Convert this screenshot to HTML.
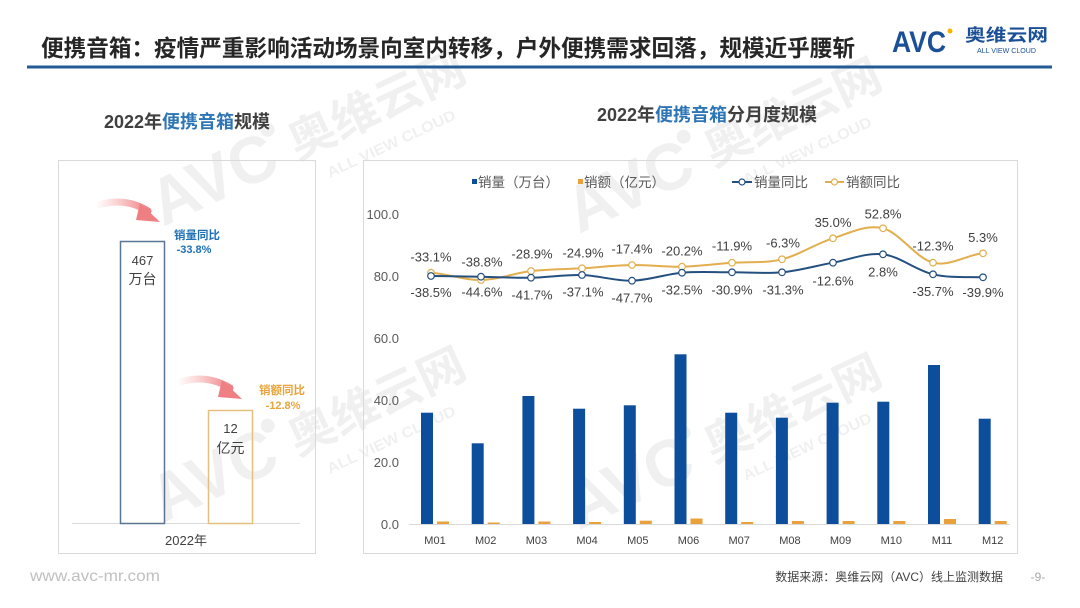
<!DOCTYPE html>
<html><head><meta charset="utf-8"><style>
html,body{margin:0;padding:0;background:#fff;}
svg{display:block;}
text{font-family:"Liberation Sans","Noto Sans CJK SC",sans-serif;}
</style></head><body>
<svg width="1080" height="608" viewBox="0 0 1080 608" xmlns="http://www.w3.org/2000/svg">
<defs>
<linearGradient id="arr" x1="0" y1="0" x2="1" y2="0">
<stop offset="0" stop-color="#f4a0a0" stop-opacity="0"/>
<stop offset="1" stop-color="#ef7f82" stop-opacity="1"/>
</linearGradient>
<g id="wm" fill="#000" fill-opacity="0.06">
<text x="0" y="0" font-size="66" font-weight="bold" textLength="132" lengthAdjust="spacingAndGlyphs">AVC</text>
<circle cx="136" cy="-44" r="7"/>
<text x="150" y="-4" font-size="46" font-weight="bold" textLength="190" lengthAdjust="spacingAndGlyphs">奥维云网</text>
<text x="172" y="26" font-size="15" font-weight="bold" textLength="140" lengthAdjust="spacingAndGlyphs">ALL VIEW CLOUD</text>
</g>
</defs>

<!-- watermarks -->
<use href="#wm" transform="translate(163,227) rotate(-25)"/>
<use href="#wm" transform="translate(579,234) rotate(-25)"/>
<use href="#wm" transform="translate(163,523) rotate(-25)"/>
<use href="#wm" transform="translate(579,530) rotate(-25)"/>

<!-- title -->
<text x="41" y="56" font-size="23" font-weight="bold" fill="#262626" textLength="814" lengthAdjust="spacingAndGlyphs">便携音箱：疫情严重影响活动场景向室内转移，户外便携需求回落，规模近乎腰斩</text>
<line x1="27" y1="67" x2="1052" y2="67" stroke="#215b96" stroke-width="3"/>

<!-- logo -->
<text x="892" y="52" font-size="30" font-weight="bold" fill="#1b4f96" textLength="54" lengthAdjust="spacingAndGlyphs">AVC</text>
<circle cx="950" cy="31" r="2.5" fill="#f5b400"/>
<text x="965" y="41" font-size="17" font-weight="bold" fill="#1b4f96" textLength="83" lengthAdjust="spacingAndGlyphs">奥维云网</text>
<text x="977" y="53" font-size="7" fill="#1b4f96" textLength="59" lengthAdjust="spacingAndGlyphs">ALL VIEW CLOUD</text>

<!-- subtitles -->
<text x="104" y="128" font-size="18" font-weight="bold" fill="#404040">2022年<tspan fill="#2e75b6">便携音箱</tspan>规模</text>
<text x="597" y="121" font-size="18" font-weight="bold" fill="#404040">2022年<tspan fill="#2e75b6">便携音箱</tspan>分月度规模</text>

<!-- left panel -->
<rect x="58.5" y="160.5" width="257" height="393" fill="none" stroke="#d9d9d9" stroke-width="1"/>
<line x1="72" y1="523.5" x2="300" y2="523.5" stroke="#d9d9d9" stroke-width="1"/>
<rect x="120.5" y="241.5" width="44" height="282" fill="none" stroke="#5b7594" stroke-width="1.5"/>
<rect x="208.5" y="410.5" width="44" height="113" fill="none" stroke="#e3c07e" stroke-width="1.5"/>
<text x="142.5" y="265" font-size="13" fill="#404040" text-anchor="middle">467</text>
<text x="142.5" y="284" font-size="14" fill="#404040" text-anchor="middle">万台</text>
<text x="230.5" y="433" font-size="13" fill="#404040" text-anchor="middle">12</text>
<text x="230.5" y="453" font-size="14" fill="#404040" text-anchor="middle">亿元</text>
<text x="186" y="545" font-size="13" fill="#404040" text-anchor="middle">2022年</text>
<text x="174" y="239" font-size="11.5" font-weight="bold" fill="#2070b8">销量同比</text>
<text x="194" y="253" font-size="11" font-weight="bold" fill="#2070b8" text-anchor="middle">-33.8%</text>
<text x="259" y="394" font-size="11.5" font-weight="bold" fill="#e8a43a">销额同比</text>
<text x="283" y="409" font-size="11" font-weight="bold" fill="#e8a43a" text-anchor="middle">-12.8%</text>
<!-- arrows -->
<path d="M95,206 Q124,196 148,211" fill="none" stroke="url(#arr)" stroke-width="7" stroke-linecap="round"/>
<polygon points="140,203 160,222 136,220" fill="#ef7f82"/>
<path d="M177,383 Q206,373 230,388" fill="none" stroke="url(#arr)" stroke-width="7" stroke-linecap="round"/>
<polygon points="222,380 242,399 218,397" fill="#ef7f82"/>

<!-- right panel -->
<rect x="363.5" y="160.5" width="654" height="393" fill="none" stroke="#d9d9d9" stroke-width="1"/>
<!-- legend -->
<rect x="472" y="179" width="5" height="5" fill="#0d4e9c"/>
<text x="478" y="187" font-size="13.5" fill="#595959">销量（万台）</text>
<rect x="578" y="179" width="5" height="5" fill="#eba13b"/>
<text x="584" y="187" font-size="13.5" fill="#595959">销额（亿元）</text>
<line x1="732" y1="182" x2="752" y2="182" stroke="#24507f" stroke-width="2"/>
<circle cx="742" cy="182" r="3" fill="#fff" stroke="#24507f" stroke-width="1.2"/>
<text x="754" y="187" font-size="13.5" fill="#595959">销量同比</text>
<line x1="825" y1="182" x2="844" y2="182" stroke="#e2ae4e" stroke-width="2"/>
<circle cx="834.5" cy="182" r="3" fill="#fff" stroke="#e2ae4e" stroke-width="1.2"/>
<text x="846" y="187" font-size="13.5" fill="#595959">销额同比</text>

<!-- y axis labels -->
<g font-size="13" fill="#595959" text-anchor="end">
<text x="399" y="219">100.0</text>
<text x="399" y="281">80.0</text>
<text x="399" y="343">60.0</text>
<text x="399" y="405">40.0</text>
<text x="399" y="467">20.0</text>
<text x="399" y="529">0.0</text>
</g>
<line x1="409" y1="524.5" x2="1010" y2="524.5" stroke="#d9d9d9" stroke-width="1"/>

<!-- blue bars -->
<g fill="#0d4e9c">
<rect x="421" y="412.7" width="12" height="111.3"/>
<rect x="471.7" y="443.3" width="12" height="80.7"/>
<rect x="522.4" y="396" width="12" height="128"/>
<rect x="573.1" y="408.7" width="12" height="115.3"/>
<rect x="623.8" y="405.3" width="12" height="118.7"/>
<rect x="674.5" y="354.3" width="12" height="169.7"/>
<rect x="725.2" y="412.7" width="12" height="111.3"/>
<rect x="775.9" y="417.7" width="12" height="106.3"/>
<rect x="826.6" y="402.7" width="12" height="121.3"/>
<rect x="877.3" y="401.7" width="12" height="122.3"/>
<rect x="928" y="365" width="12" height="159"/>
<rect x="978.7" y="418.7" width="12" height="105.3"/>
</g>
<!-- orange bars -->
<g fill="#eba13b">
<rect x="437" y="521.5" width="12" height="2.5"/>
<rect x="487.7" y="522.5" width="12" height="1.5"/>
<rect x="538.4" y="521.5" width="12" height="2.5"/>
<rect x="589.1" y="522" width="12" height="2"/>
<rect x="639.8" y="520.7" width="12" height="3.3"/>
<rect x="690.5" y="518.5" width="12" height="5.5"/>
<rect x="741.2" y="522" width="12" height="2"/>
<rect x="791.9" y="521" width="12" height="3"/>
<rect x="842.6" y="521" width="12" height="3"/>
<rect x="893.3" y="521" width="12" height="3"/>
<rect x="944" y="519" width="12" height="5"/>
<rect x="994.7" y="521" width="12" height="3"/>
</g>
<!-- x labels -->
<g font-size="11" fill="#404040" text-anchor="middle">
<text x="435" y="544">M01</text>
<text x="485.7" y="544">M02</text>
<text x="536.4" y="544">M03</text>
<text x="587.1" y="544">M04</text>
<text x="637.8" y="544">M05</text>
<text x="688.5" y="544">M06</text>
<text x="739.2" y="544">M07</text>
<text x="789.9" y="544">M08</text>
<text x="840.6" y="544">M09</text>
<text x="891.3" y="544">M10</text>
<text x="942" y="544">M11</text>
<text x="992.7" y="544">M12</text>
</g>

<!-- orange line -->
<path d="M431,272.7 C447.7,273.9 464.5,280.3 481,280 C497.9,279.7 514.7,273 531,271 C548.1,269.1 564.9,269.3 582,268.3 C598.3,267.3 615.1,265.3 632,265 C648.5,264.7 665.3,267.1 682,266.7 C698.7,266.3 715.5,263.9 732,262.7 C748.9,261.5 765.7,263.4 782,259.3 C799.1,255.2 815.9,243.5 833,238.3 C849.3,233.1 866.1,224.2 883,228.3 C899.5,232.4 916.3,258.5 933,262.7 C949.7,266.9 966.5,254.9 983,253.3" fill="none" stroke="#e2ae4e" stroke-width="2"/>
<!-- blue line -->
<path d="M431,276 C447.7,276.1 464.5,276.4 481,276.7 C497.9,277 514.7,278 531,277.7 C548.1,277.4 564.9,274.5 582,275 C598.3,275.5 615.1,281.1 632,280.7 C648.5,280.3 665.3,274.1 682,272.7 C698.7,271.3 715.5,272.4 732,272.3 C748.9,272.2 765.7,273.9 782,272.3 C799.1,270.7 815.9,265.7 833,262.7 C849.3,259.7 866.1,252.4 883,254.3 C899.5,256.2 916.3,270.5 933,274.3 C949.7,278.1 966.5,276.8 983,277.3" fill="none" stroke="#24507f" stroke-width="2"/>
<g fill="#fff" stroke="#e2ae4e" stroke-width="1.2">
<circle cx="431" cy="272.7" r="3.3"/><circle cx="481" cy="280" r="3.3"/><circle cx="531" cy="271" r="3.3"/><circle cx="582" cy="268.3" r="3.3"/><circle cx="632" cy="265" r="3.3"/><circle cx="682" cy="266.7" r="3.3"/><circle cx="732" cy="262.7" r="3.3"/><circle cx="782" cy="259.3" r="3.3"/><circle cx="833" cy="238.3" r="3.3"/><circle cx="883" cy="228.3" r="3.3"/><circle cx="933" cy="262.7" r="3.3"/><circle cx="983" cy="253.3" r="3.3"/>
</g>
<g fill="#fff" stroke="#24507f" stroke-width="1.2">
<circle cx="431" cy="276" r="3.3"/><circle cx="481" cy="276.7" r="3.3"/><circle cx="531" cy="277.7" r="3.3"/><circle cx="582" cy="275" r="3.3"/><circle cx="632" cy="280.7" r="3.3"/><circle cx="682" cy="272.7" r="3.3"/><circle cx="732" cy="272.3" r="3.3"/><circle cx="782" cy="272.3" r="3.3"/><circle cx="833" cy="262.7" r="3.3"/><circle cx="883" cy="254.3" r="3.3"/><circle cx="933" cy="274.3" r="3.3"/><circle cx="983" cy="277.3" r="3.3"/>
</g>
<!-- orange labels -->
<g font-size="13" fill="#404040" text-anchor="middle">
<text x="431" y="261.5">-33.1%</text>
<text x="482" y="266.5">-38.8%</text>
<text x="532" y="258.5">-28.9%</text>
<text x="583" y="257.5">-24.9%</text>
<text x="632" y="253.5">-17.4%</text>
<text x="682" y="255.5">-20.2%</text>
<text x="732" y="250.5">-11.9%</text>
<text x="783" y="247.5">-6.3%</text>
<text x="833" y="227">35.0%</text>
<text x="883" y="218.5">52.8%</text>
<text x="933" y="250.5">-12.3%</text>
<text x="983" y="242">5.3%</text>
</g>
<!-- blue labels -->
<g font-size="13" fill="#404040" text-anchor="middle">
<text x="431" y="297">-38.5%</text>
<text x="482" y="296.5">-44.6%</text>
<text x="532" y="299.5">-41.7%</text>
<text x="583" y="296.5">-37.1%</text>
<text x="632" y="302.5">-47.7%</text>
<text x="682" y="294.5">-32.5%</text>
<text x="732" y="294.5">-30.9%</text>
<text x="783" y="294.5">-31.3%</text>
<text x="833" y="285.5">-12.6%</text>
<text x="883" y="276.5">2.8%</text>
<text x="933" y="296">-35.7%</text>
<text x="983" y="297">-39.9%</text>
</g>

<!-- footer -->
<text x="30" y="581" font-size="16" fill="#c0c0c0" textLength="130" lengthAdjust="spacingAndGlyphs">www.avc-mr.com</text>
<text x="1003" y="581" font-size="12" fill="#404040" text-anchor="end">数据来源：奥维云网（AVC）线上监测数据</text>
<text x="1038" y="581" font-size="12" fill="#a6a6a6" text-anchor="middle">-9-</text>
</svg>
</body></html>
